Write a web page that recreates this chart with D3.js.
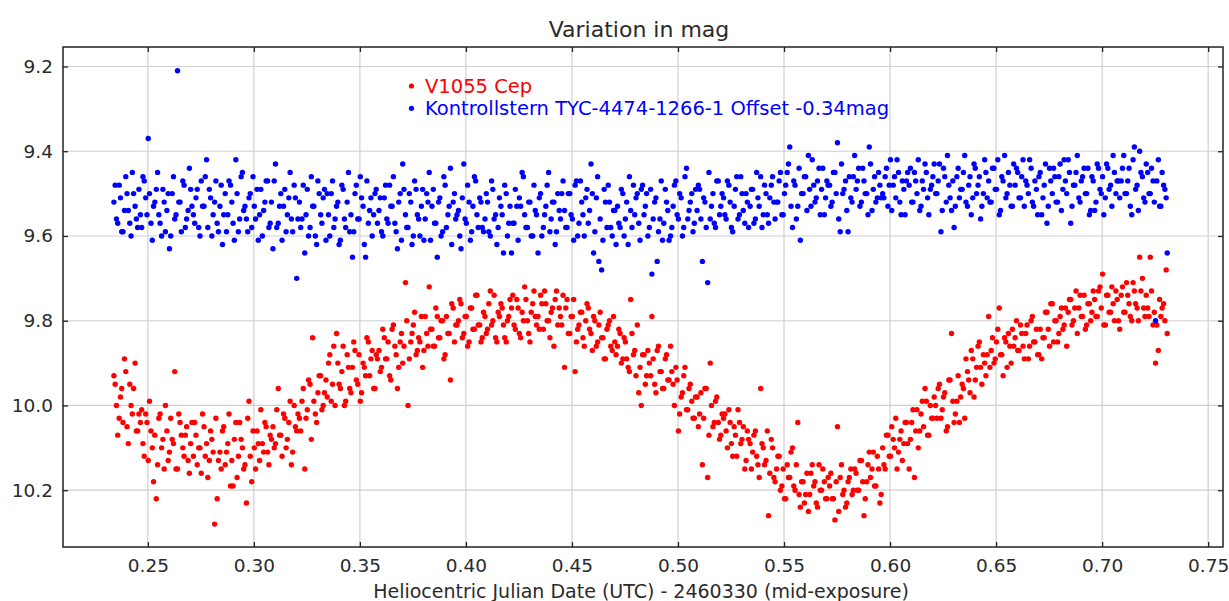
<!DOCTYPE html>
<html>
<head>
<meta charset="utf-8">
<script src="https://cdn.jsdelivr.net/npm/d3@7/dist/d3.min.js"></script>
<style>
	body { margin: 0; background: #fff; }
	text { font-family: 'DejaVu Sans', sans-serif; }
</style>
</head>
<body>
<script>
// mid-exposure times (HJD - 2460330), one frame -> one value per star
// first block: even frames, second block: odd frames
var hjd = [
	0.2340,0.2352,0.2365,0.2377,0.2390,0.2402,0.2415,0.2427,0.2440,0.2452,
	0.2465,0.2477,0.2490,0.2502,0.2515,0.2527,0.2540,0.2552,0.2565,0.2577,
	0.2590,0.2602,0.2615,0.2627,0.2640,0.2652,0.2665,0.2677,0.2690,0.2702,
	0.2715,0.2727,0.2740,0.2752,0.2765,0.2777,0.2790,0.2802,0.2815,0.2827,
	0.2840,0.2852,0.2865,0.2877,0.2890,0.2902,0.2915,0.2927,0.2940,0.2952,
	0.2965,0.2977,0.2990,0.3002,0.3015,0.3027,0.3040,0.3052,0.3065,0.3077,
	0.3090,0.3102,0.3115,0.3127,0.3140,0.3152,0.3165,0.3177,0.3190,0.3202,
	0.3215,0.3227,0.3240,0.3252,0.3265,0.3277,0.3290,0.3302,0.3315,0.3327,
	0.3340,0.3352,0.3365,0.3377,0.3390,0.3402,0.3415,0.3427,0.3440,0.3452,
	0.3465,0.3477,0.3490,0.3502,0.3515,0.3527,0.3540,0.3552,0.3565,0.3577,
	0.3590,0.3602,0.3615,0.3627,0.3640,0.3652,0.3665,0.3677,0.3690,0.3702,
	0.3715,0.3727,0.3740,0.3752,0.3765,0.3777,0.3790,0.3802,0.3815,0.3827,
	0.3840,0.3852,0.3865,0.3877,0.3890,0.3902,0.3915,0.3927,0.3940,0.3952,
	0.3965,0.3977,0.3990,0.4002,0.4015,0.4027,0.4040,0.4052,0.4065,0.4077,
	0.4090,0.4102,0.4115,0.4127,0.4140,0.4152,0.4165,0.4177,0.4190,0.4202,
	0.4215,0.4227,0.4240,0.4252,0.4265,0.4277,0.4290,0.4302,0.4315,0.4327,
	0.4340,0.4352,0.4365,0.4377,0.4390,0.4402,0.4415,0.4427,0.4440,0.4452,
	0.4465,0.4477,0.4490,0.4502,0.4515,0.4527,0.4540,0.4552,0.4565,0.4577,
	0.4590,0.4602,0.4615,0.4627,0.4640,0.4652,0.4665,0.4677,0.4690,0.4702,
	0.4715,0.4727,0.4740,0.4752,0.4765,0.4777,0.4790,0.4802,0.4815,0.4827,
	0.4840,0.4852,0.4865,0.4877,0.4890,0.4902,0.4915,0.4927,0.4940,0.4952,
	0.4965,0.4977,0.4990,0.5002,0.5015,0.5027,0.5040,0.5052,0.5065,0.5077,
	0.5090,0.5102,0.5115,0.5127,0.5140,0.5152,0.5165,0.5177,0.5190,0.5202,
	0.5215,0.5227,0.5240,0.5252,0.5265,0.5277,0.5290,0.5302,0.5315,0.5327,
	0.5340,0.5352,0.5365,0.5377,0.5390,0.5402,0.5415,0.5427,0.5440,0.5452,
	0.5465,0.5477,0.5490,0.5502,0.5515,0.5527,0.5540,0.5552,0.5565,0.5577,
	0.5590,0.5602,0.5615,0.5627,0.5640,0.5652,0.5665,0.5677,0.5690,0.5702,
	0.5715,0.5727,0.5740,0.5752,0.5765,0.5777,0.5790,0.5802,0.5815,0.5827,
	0.5840,0.5852,0.5865,0.5877,0.5890,0.5902,0.5915,0.5927,0.5940,0.5952,
	0.5965,0.5977,0.5990,0.6002,0.6015,0.6027,0.6040,0.6052,0.6065,0.6077,
	0.6090,0.6102,0.6115,0.6127,0.6140,0.6152,0.6165,0.6177,0.6190,0.6202,
	0.6215,0.6227,0.6240,0.6252,0.6265,0.6277,0.6290,0.6302,0.6315,0.6327,
	0.6340,0.6352,0.6365,0.6377,0.6390,0.6402,0.6415,0.6427,0.6440,0.6452,
	0.6465,0.6477,0.6490,0.6502,0.6515,0.6527,0.6540,0.6552,0.6565,0.6577,
	0.6590,0.6602,0.6615,0.6627,0.6640,0.6652,0.6665,0.6677,0.6690,0.6702,
	0.6715,0.6727,0.6740,0.6752,0.6765,0.6777,0.6790,0.6802,0.6815,0.6827,
	0.6840,0.6852,0.6865,0.6877,0.6890,0.6902,0.6915,0.6927,0.6940,0.6952,
	0.6965,0.6977,0.6990,0.7002,0.7015,0.7027,0.7040,0.7052,0.7065,0.7077,
	0.7090,0.7102,0.7115,0.7127,0.7140,0.7152,0.7165,0.7177,0.7190,0.7202,
	0.7215,0.7227,0.7240,0.7252,0.7265,0.7277,0.7290,0.7302,0.7307,
	0.2346,0.2358,0.2371,0.2383,0.2396,0.2408,0.2421,0.2433,0.2446,0.2458,
	0.2471,0.2483,0.2496,0.2508,0.2521,0.2533,0.2546,0.2558,0.2571,0.2583,
	0.2596,0.2608,0.2621,0.2633,0.2646,0.2658,0.2671,0.2683,0.2696,0.2708,
	0.2721,0.2733,0.2746,0.2758,0.2771,0.2783,0.2796,0.2808,0.2821,0.2833,
	0.2846,0.2858,0.2871,0.2883,0.2896,0.2908,0.2921,0.2933,0.2946,0.2958,
	0.2971,0.2983,0.2996,0.3008,0.3021,0.3033,0.3046,0.3058,0.3071,0.3083,
	0.3096,0.3108,0.3121,0.3133,0.3146,0.3158,0.3171,0.3183,0.3196,0.3208,
	0.3221,0.3233,0.3246,0.3258,0.3271,0.3283,0.3296,0.3308,0.3321,0.3333,
	0.3346,0.3358,0.3371,0.3383,0.3396,0.3408,0.3421,0.3433,0.3446,0.3458,
	0.3471,0.3483,0.3496,0.3508,0.3521,0.3533,0.3546,0.3558,0.3571,0.3583,
	0.3596,0.3608,0.3621,0.3633,0.3646,0.3658,0.3671,0.3683,0.3696,0.3708,
	0.3721,0.3733,0.3746,0.3758,0.3771,0.3783,0.3796,0.3808,0.3821,0.3833,
	0.3846,0.3858,0.3871,0.3883,0.3896,0.3908,0.3921,0.3933,0.3946,0.3958,
	0.3971,0.3983,0.3996,0.4008,0.4021,0.4033,0.4046,0.4058,0.4071,0.4083,
	0.4096,0.4108,0.4121,0.4133,0.4146,0.4158,0.4171,0.4183,0.4196,0.4208,
	0.4221,0.4233,0.4246,0.4258,0.4271,0.4283,0.4296,0.4308,0.4321,0.4333,
	0.4346,0.4358,0.4371,0.4383,0.4396,0.4408,0.4421,0.4433,0.4446,0.4458,
	0.4471,0.4483,0.4496,0.4508,0.4521,0.4533,0.4546,0.4558,0.4571,0.4583,
	0.4596,0.4608,0.4621,0.4633,0.4646,0.4658,0.4671,0.4683,0.4696,0.4708,
	0.4721,0.4733,0.4746,0.4758,0.4771,0.4783,0.4796,0.4808,0.4821,0.4833,
	0.4846,0.4858,0.4871,0.4883,0.4896,0.4908,0.4921,0.4933,0.4946,0.4958,
	0.4971,0.4983,0.4996,0.5008,0.5021,0.5033,0.5046,0.5058,0.5071,0.5083,
	0.5096,0.5108,0.5121,0.5133,0.5146,0.5158,0.5171,0.5183,0.5196,0.5208,
	0.5221,0.5233,0.5246,0.5258,0.5271,0.5283,0.5296,0.5308,0.5321,0.5333,
	0.5346,0.5358,0.5371,0.5383,0.5396,0.5408,0.5421,0.5433,0.5446,0.5458,
	0.5471,0.5483,0.5496,0.5508,0.5521,0.5533,0.5546,0.5558,0.5571,0.5583,
	0.5596,0.5608,0.5621,0.5633,0.5646,0.5658,0.5671,0.5683,0.5696,0.5708,
	0.5721,0.5733,0.5746,0.5758,0.5771,0.5783,0.5796,0.5808,0.5821,0.5833,
	0.5846,0.5858,0.5871,0.5883,0.5896,0.5908,0.5921,0.5933,0.5946,0.5958,
	0.5971,0.5983,0.5996,0.6008,0.6021,0.6033,0.6046,0.6058,0.6071,0.6083,
	0.6096,0.6108,0.6121,0.6133,0.6146,0.6158,0.6171,0.6183,0.6196,0.6208,
	0.6221,0.6233,0.6246,0.6258,0.6271,0.6283,0.6296,0.6308,0.6321,0.6333,
	0.6346,0.6358,0.6371,0.6383,0.6396,0.6408,0.6421,0.6433,0.6446,0.6458,
	0.6471,0.6483,0.6496,0.6508,0.6521,0.6533,0.6546,0.6558,0.6571,0.6583,
	0.6596,0.6608,0.6621,0.6633,0.6646,0.6658,0.6671,0.6683,0.6696,0.6708,
	0.6721,0.6733,0.6746,0.6758,0.6771,0.6783,0.6796,0.6808,0.6821,0.6833,
	0.6846,0.6858,0.6871,0.6883,0.6896,0.6908,0.6921,0.6933,0.6946,0.6958,
	0.6971,0.6983,0.6996,0.7008,0.7021,0.7033,0.7046,0.7058,0.7071,0.7083,
	0.7096,0.7108,0.7121,0.7133,0.7146,0.7158,0.7171,0.7183,0.7196,0.7208,
	0.7221,0.7233,0.7246,0.7258,0.7271,0.7283,0.7296
];

// V1055 Cep (mag)
var v1055 = [
	9.93,10.00,10.03,9.96,9.89,10.05,9.95,10.02,9.90,10.06,
	10.04,10.09,10.02,10.13,10.06,10.18,10.22,10.03,10.10,10.15,
	10.06,10.11,10.08,9.92,10.15,10.04,10.10,10.07,10.13,10.09,
	10.12,10.07,10.10,10.16,10.05,10.09,10.13,10.08,10.28,10.22,
	10.11,10.06,10.14,10.09,10.19,10.19,10.04,10.12,10.08,10.15,
	10.23,9.99,10.18,10.10,10.06,10.13,10.09,10.04,10.11,10.07,
	10.05,10.09,9.96,10.07,10.02,10.10,10.04,10.14,10.00,10.06,
	10.03,9.99,10.15,10.01,9.95,9.84,10.02,9.97,9.93,10.00,
	9.94,9.90,9.99,9.86,9.83,9.95,9.92,10.00,9.88,9.96,
	9.91,9.87,9.95,9.99,9.90,9.93,9.85,9.89,9.96,9.88,
	9.87,9.91,9.84,9.89,9.93,9.82,9.86,9.96,9.85,9.90,
	9.71,10.00,9.85,9.81,9.88,9.84,9.79,9.87,9.83,9.72,
	9.82,9.86,9.79,9.84,9.80,9.88,9.83,9.94,9.77,9.81,
	9.80,9.76,9.83,9.79,9.85,9.77,9.82,9.74,9.81,9.84,
	9.79,9.82,9.73,9.80,9.84,9.78,9.76,9.81,9.85,9.79,
	9.77,9.81,9.75,9.83,9.78,9.72,9.80,9.85,9.76,9.79,
	9.79,9.74,9.82,9.76,9.80,9.78,9.86,9.73,9.77,9.81,
	9.91,9.75,9.83,9.79,9.92,9.82,9.78,9.84,9.80,9.77,
	9.83,9.79,9.86,9.81,9.84,9.89,9.82,9.80,9.87,9.85,
	9.86,9.83,9.89,9.85,9.91,9.75,9.88,9.93,9.97,10.00,
	9.88,9.93,9.90,9.79,9.95,9.87,9.92,9.96,9.89,9.94,
	9.86,9.95,9.91,10.06,9.98,9.93,10.01,9.96,9.99,10.03,
	9.98,10.02,10.14,9.96,10.17,9.90,10.05,9.99,10.04,10.07,
	10.03,10.06,10.01,10.09,10.05,10.12,10.04,10.08,10.15,10.06,
	10.09,10.11,10.06,10.14,9.96,10.10,10.13,10.26,10.08,10.17,
	10.15,10.12,10.19,10.22,10.14,10.17,10.10,10.20,10.04,10.24,
	10.18,10.21,10.25,10.16,10.19,10.23,10.14,10.20,10.18,10.22,
	10.19,10.22,10.27,10.05,10.17,10.21,10.24,10.18,10.15,10.20,
	10.16,10.20,10.13,10.26,10.18,10.11,10.15,10.19,10.12,10.23,
	10.10,10.15,10.07,10.12,10.08,10.03,10.11,10.06,10.09,10.04,
	10.15,10.04,10.17,10.01,10.06,9.99,9.96,10.07,10.00,10.03,
	10.00,9.96,10.03,9.98,10.06,9.94,9.83,10.04,9.99,10.04,
	9.95,10.03,9.92,9.97,9.89,9.94,9.86,9.91,9.88,9.93,
	9.79,9.87,9.90,9.85,9.77,9.88,9.84,9.91,9.86,9.82,
	9.84,9.87,9.81,9.86,9.83,9.89,9.80,9.85,9.82,9.88,
	9.89,9.84,9.78,9.86,9.76,9.80,9.85,9.79,9.82,9.77,
	9.78,9.75,9.80,9.73,9.77,9.79,9.74,9.81,9.76,9.78,
	9.75,9.79,9.72,9.69,9.81,9.74,9.78,9.76,9.73,9.80,
	9.74,9.78,9.71,9.76,9.80,9.73,9.77,9.65,9.70,9.79,
	9.77,9.65,9.81,9.90,9.87,9.79,9.76,9.68,9.83,
	9.95,10.07,9.98,10.04,9.92,10.09,10.00,9.96,10.06,10.02,
	10.01,10.12,10.04,9.99,10.10,10.07,10.14,10.02,10.08,10.00,
	10.13,10.03,10.09,10.15,10.02,10.07,10.12,10.05,10.16,10.04,
	10.04,10.14,10.10,10.02,10.12,10.17,10.06,10.11,10.03,10.13,
	10.15,10.05,10.11,10.02,10.13,10.08,10.17,10.04,10.10,10.14,
	10.03,10.12,10.06,10.15,10.09,10.01,10.11,10.05,10.14,10.08,
	10.10,10.01,10.07,10.12,10.03,10.08,9.99,10.11,10.05,10.02,
	10.06,9.96,10.03,9.94,10.08,9.99,10.04,9.93,10.01,9.97,
	9.98,9.88,9.95,10.00,9.90,9.96,9.86,9.99,9.91,9.97,
	9.85,9.94,9.88,9.97,9.91,9.84,9.93,9.87,9.96,9.89,
	9.92,9.82,9.89,9.85,9.94,9.81,9.88,9.91,9.83,9.86,
	9.80,9.89,9.83,9.78,9.87,9.85,9.91,9.79,9.86,9.82,
	9.86,9.77,9.84,9.80,9.89,9.79,9.83,9.76,9.85,9.81,
	9.75,9.84,9.79,9.86,9.77,9.82,9.74,9.81,9.85,9.78,
	9.83,9.76,9.81,9.74,9.85,9.79,9.77,9.84,9.80,9.75,
	9.74,9.82,9.77,9.84,9.80,9.75,9.83,9.78,9.73,9.81,
	9.82,9.76,9.73,9.80,9.84,9.77,9.75,9.81,9.79,9.74,
	9.77,9.83,9.79,9.75,9.85,9.81,9.78,9.86,9.76,9.82,
	9.87,9.80,9.85,9.78,9.84,9.89,9.81,9.86,9.79,9.88,
	9.82,9.90,9.84,9.89,9.92,9.83,9.87,9.81,9.91,9.88,
	9.95,9.87,9.93,9.89,9.97,9.86,9.92,9.96,9.88,9.94,
	9.92,10.00,9.94,10.02,9.97,9.91,10.01,9.95,10.03,9.98,
	10.05,9.97,10.03,9.96,10.07,10.00,10.04,9.98,10.08,10.02,
	10.02,10.10,10.04,10.12,10.07,10.01,10.09,10.05,10.13,10.08,
	10.15,10.07,10.12,10.17,10.09,10.14,10.06,10.16,10.10,10.18,
	10.12,10.20,10.15,10.22,10.17,10.11,10.19,10.14,10.21,10.18,
	10.23,10.16,10.21,10.14,10.18,10.24,10.20,10.15,10.22,10.17,
	10.16,10.22,10.18,10.25,10.14,10.20,10.23,10.17,10.21,10.15,
	10.20,10.13,10.18,10.22,10.14,10.17,10.11,10.19,10.15,10.21,
	10.14,10.07,10.12,10.05,10.10,10.15,10.08,10.13,10.04,10.09,
	10.08,10.01,10.06,10.10,10.02,10.05,9.99,10.07,10.03,9.98,
	10.03,9.95,10.01,9.97,10.05,9.94,9.99,10.02,9.93,9.98,
	9.96,9.89,9.94,9.87,9.98,9.91,9.85,9.95,9.90,9.88,
	9.91,9.84,9.89,9.82,9.88,9.93,9.85,9.83,9.90,9.86,
	9.80,9.87,9.83,9.89,9.81,9.86,9.79,9.85,9.88,9.82,
	9.84,9.78,9.82,9.76,9.85,9.80,9.83,9.77,9.81,9.86,
	9.75,9.81,9.77,9.83,9.74,9.79,9.82,9.76,9.80,9.73,
	9.79,9.73,9.77,9.81,9.74,9.78,9.72,9.80,9.75,9.82,
	9.72,9.78,9.74,9.79,9.71,9.76,9.80,9.73,9.77,9.74,
	9.79,9.73,9.78,9.81,9.75,9.77,9.80
];

// Kontrollstern TYC-4474-1266-1, already shifted by -0.34 mag
var checkStar = [
	9.52,9.56,9.48,9.59,9.54,9.50,9.57,9.45,9.53,9.58,
	9.55,9.46,9.51,9.37,9.57,9.53,9.49,9.55,9.60,9.52,
	9.54,9.63,9.50,9.56,9.21,9.52,9.47,9.58,9.54,9.49,
	9.55,9.51,9.58,9.47,9.53,9.42,9.49,9.60,9.52,9.57,
	9.53,9.62,9.50,9.55,9.48,9.57,9.42,9.59,9.46,9.54,
	9.56,9.51,9.58,9.53,9.49,9.55,9.60,9.52,9.47,9.57,
	9.63,9.43,9.57,9.50,9.53,9.59,9.51,9.56,9.48,9.70,
	9.52,9.56,9.64,9.49,9.58,9.53,9.60,9.47,9.55,9.51,
	9.61,9.55,9.50,9.58,9.53,9.62,9.48,9.56,9.52,9.59,
	9.65,9.50,9.56,9.46,9.53,9.65,9.57,9.51,9.55,9.49,
	9.54,9.59,9.51,9.56,9.48,9.53,9.57,9.63,9.50,9.43,
	9.55,9.58,9.52,9.60,9.49,9.56,9.53,9.61,9.50,9.45,
	9.53,9.57,9.65,9.51,9.59,9.48,9.55,9.44,9.52,9.56,
	9.54,9.63,9.43,9.57,9.52,9.59,9.46,9.55,9.51,9.58,
	9.56,9.52,9.60,9.49,9.55,9.58,9.53,9.64,9.50,9.57,
	9.64,9.57,9.53,9.51,9.45,9.55,9.58,9.52,9.60,9.54,
	9.64,9.50,9.58,9.53,9.45,9.56,9.52,9.59,9.54,9.50,
	9.54,9.58,9.50,9.56,9.48,9.60,9.47,9.55,9.51,9.57,
	9.43,9.64,9.51,9.66,9.68,9.49,9.58,9.52,9.60,9.54,
	9.53,9.58,9.50,9.56,9.62,9.54,9.48,9.51,9.57,9.49,
	9.55,9.50,9.58,9.69,9.52,9.66,9.56,9.61,9.49,9.54,
	9.60,9.53,9.47,9.56,9.51,9.58,9.44,9.54,9.50,9.57,
	9.54,9.49,9.66,9.52,9.71,9.56,9.50,9.58,9.47,9.53,
	9.51,9.56,9.48,9.58,9.53,9.46,9.55,9.50,9.57,9.52,
	9.53,9.49,9.56,9.51,9.46,9.55,9.50,9.57,9.48,9.52,
	9.52,9.47,9.55,9.50,9.45,9.39,9.58,9.48,9.53,9.61,
	9.50,9.46,9.41,9.53,9.48,9.51,9.44,9.49,9.55,9.47,
	9.48,9.52,9.45,9.38,9.59,9.50,9.47,9.59,9.51,9.46,
	9.49,9.44,9.52,9.47,9.50,9.39,9.54,9.46,9.51,9.48,
	9.50,9.46,9.53,9.42,9.48,9.51,9.45,9.55,9.49,9.47,
	9.48,9.52,9.45,9.50,9.54,9.47,9.43,9.51,9.49,9.46,
	9.50,9.47,9.59,9.44,9.52,9.48,9.54,9.58,9.46,9.51,
	9.49,9.41,9.53,9.46,9.51,9.44,9.48,9.56,9.50,9.45,
	9.47,9.52,9.44,9.49,9.55,9.46,9.41,9.50,9.48,9.53,
	9.48,9.45,9.51,9.42,9.47,9.50,9.44,9.53,9.49,9.46,
	9.55,9.48,9.57,9.44,9.50,9.46,9.52,9.43,9.49,9.47,
	9.42,9.57,9.48,9.45,9.51,9.47,9.44,9.50,9.55,9.46,
	9.54,9.43,9.49,9.46,9.51,9.44,9.48,9.41,9.50,9.47,
	9.47,9.41,9.50,9.44,9.55,9.39,9.48,9.40,9.46,9.52,
	9.45,9.50,9.47,9.80,9.42,9.53,9.48,9.51,9.64,
	9.48,9.57,9.51,9.59,9.46,9.54,9.60,9.50,9.56,9.49,
	9.58,9.47,9.55,9.50,9.61,9.52,9.45,9.57,9.49,9.59,
	9.50,9.60,9.46,9.55,9.52,9.59,9.48,9.56,9.44,9.53,
	9.57,9.49,9.60,9.53,9.46,9.58,9.51,9.55,9.47,9.59,
	9.48,9.55,9.59,9.47,9.52,9.61,9.50,9.56,9.45,9.53,
	9.59,9.50,9.46,9.56,9.61,9.49,9.54,9.47,9.58,9.52,
	9.47,9.58,9.53,9.61,9.49,9.55,9.45,9.59,9.51,9.56,
	9.58,9.48,9.55,9.60,9.46,9.53,9.62,9.50,9.57,9.49,
	9.50,9.60,9.47,9.56,9.52,9.61,9.49,9.58,9.45,9.55,
	9.59,9.48,9.56,9.51,9.62,9.47,9.54,9.60,9.50,9.57,
	9.51,9.60,9.48,9.57,9.53,9.46,9.59,9.52,9.61,9.49,
	9.58,9.50,9.62,9.47,9.55,9.60,9.49,9.56,9.52,9.61,
	9.49,9.57,9.52,9.60,9.46,9.58,9.53,9.62,9.50,9.55,
	9.60,9.51,9.56,9.48,9.61,9.53,9.47,9.58,9.52,9.59,
	9.50,9.59,9.47,9.56,9.62,9.51,9.55,9.48,9.60,9.53,
	9.57,9.49,9.61,9.53,9.46,9.58,9.52,9.60,9.48,9.55,
	9.51,9.60,9.55,9.48,9.59,9.52,9.62,9.50,9.56,9.47,
	9.58,9.50,9.55,9.61,9.47,9.57,9.52,9.60,9.49,9.54,
	9.50,9.59,9.46,9.56,9.61,9.52,9.48,9.58,9.54,9.62,
	9.57,9.49,9.60,9.52,9.46,9.58,9.55,9.50,9.61,9.48,
	9.53,9.60,9.49,9.56,9.51,9.59,9.47,9.57,9.52,9.61,
	9.58,9.48,9.55,9.50,9.60,9.46,9.56,9.52,9.59,9.49,
	9.48,9.56,9.51,9.58,9.45,9.53,9.57,9.47,9.55,9.50,
	9.55,9.47,9.52,9.59,9.49,9.56,9.46,9.54,9.50,9.58,
	9.49,9.57,9.45,9.53,9.58,9.48,9.55,9.51,9.46,9.56,
	9.52,9.45,9.55,9.48,9.43,9.53,9.47,9.56,9.44,9.50,
	9.46,9.54,9.49,9.42,9.52,9.47,9.55,9.44,9.51,9.48,
	9.53,9.45,9.50,9.56,9.43,9.49,9.54,9.46,9.52,9.41,
	9.47,9.53,9.44,9.50,9.55,9.43,9.49,9.52,9.45,9.51,
	9.51,9.44,9.48,9.54,9.46,9.42,9.52,9.47,9.55,9.45,
	9.44,9.52,9.47,9.42,9.53,9.49,9.45,9.55,9.48,9.43,
	9.50,9.43,9.54,9.46,9.41,9.51,9.47,9.53,9.44,9.49,
	9.45,9.52,9.48,9.55,9.43,9.50,9.46,9.53,9.42,9.51,
	9.52,9.44,9.49,9.42,9.54,9.47,9.51,9.45,9.53,9.43,
	9.44,9.51,9.46,9.53,9.48,9.42,9.52,9.47,9.55,9.45,
	9.51,9.43,9.53,9.47,9.44,9.52,9.46,9.54,9.42,9.50,
	9.45,9.53,9.48,9.41,9.52,9.46,9.50,9.44,9.54,9.47,
	9.52,9.44,9.50,9.55,9.43,9.49,9.53,9.45,9.47,9.51,
	9.44,9.50,9.47,9.53,9.42,9.49,9.54,9.45,9.51,9.43,
	9.50,9.44,9.52,9.47,9.53,9.45,9.49
];

var xTicks = [0.25, 0.30, 0.35, 0.40, 0.45, 0.50, 0.55, 0.60, 0.65, 0.70, 0.75];
var yTicks = [9.2, 9.4, 9.6, 9.8, 10.0, 10.2];
var seriesNames = ['V1055 Cep', 'Kontrollstern TYC-4474-1266-1 Offset -0.34mag'];
var seriesColors = ['#ff0000', '#0000ff'];

var svg = d3.select('body').append('svg')
	.attr('width', 1229)
	.attr('height', 601);

var x = d3.scaleLinear().domain([0.21, 0.757]).range([63, 1223]);
var y = d3.scaleLinear().domain([9.154, 10.334]).range([47, 547]);

// grid
svg.append('g').selectAll('line').data(xTicks).enter().append('line')
	.attr('x1', function(d){ return x(d); })
	.attr('x2', function(d){ return x(d); })
	.attr('y1', 47)
	.attr('y2', 547)
	.attr('stroke', '#cfcfcf')
	.attr('stroke-width', 1.2);

svg.append('g').selectAll('line').data(yTicks).enter().append('line')
	.attr('x1', 63)
	.attr('x2', 1223)
	.attr('y1', function(d){ return y(d); })
	.attr('y2', function(d){ return y(d); })
	.attr('stroke', '#cfcfcf')
	.attr('stroke-width', 1.2);

// points: target first, check star on top
var pts = svg.append('g');
pts.selectAll('circle.var').data(hjd).enter().append('circle')
	.attr('class', 'var')
	.attr('cx', function(d){ return x(d); })
	.attr('cy', function(d, i){ return y(v1055[i]); })
	.attr('r', 2.7)
	.attr('fill', seriesColors[0]);

pts.selectAll('circle.chk').data(hjd).enter().append('circle')
	.attr('class', 'chk')
	.attr('cx', function(d){ return x(d); })
	.attr('cy', function(d, i){ return y(checkStar[i]); })
	.attr('r', 2.7)
	.attr('fill', seriesColors[1]);

// axes, ticks point inwards
svg.append('g')
	.attr('transform', 'translate(0,547)')
	.call(d3.axisBottom(x).tickValues(xTicks).tickFormat(d3.format('.2f')).tickSize(-5).tickPadding(11.5));

svg.append('g')
	.attr('transform', 'translate(63,0)')
	.call(d3.axisLeft(y).tickValues(yTicks).tickFormat(d3.format('.1f')).tickSize(-5).tickPadding(10));

svg.append('g')
	.attr('transform', 'translate(0,47)')
	.call(d3.axisTop(x).tickValues(xTicks).tickFormat('').tickSize(-5));

svg.append('g')
	.attr('transform', 'translate(1223,0)')
	.call(d3.axisRight(y).tickValues(yTicks).tickFormat('').tickSize(-5));

svg.selectAll('.domain').remove();
svg.selectAll('.tick line').attr('stroke', '#222').attr('stroke-width', 1.3);
svg.selectAll('.tick text')
	.attr('fill', '#2a2a2a')
	.style('font-size', '18.5px')
	.style('font-family', "'DejaVu Sans', sans-serif");

svg.append('rect')
	.attr('x', 63)
	.attr('y', 47)
	.attr('width', 1160)
	.attr('height', 500)
	.attr('fill', 'none')
	.attr('stroke', '#222')
	.attr('stroke-width', 1.5);

// titles
svg.append('text')
	.attr('x', 639)
	.attr('y', 37)
	.attr('text-anchor', 'middle')
	.attr('fill', '#2a2a2a')
	.style('font-size', '22px')
	.text('Variation in mag');

svg.append('text')
	.attr('x', 641)
	.attr('y', 598)
	.attr('text-anchor', 'middle')
	.attr('fill', '#2a2a2a')
	.style('font-size', '19px')
	.text('Heliocentric Julian Date (UTC) - 2460330 (mid-exposure)');

// legend
var legend = svg.append('g');
seriesNames.forEach(function(name, i){
	legend.append('circle')
		.attr('cx', 411.5)
		.attr('cy', 86 + i * 22.3)
		.attr('r', 2.6)
		.attr('fill', seriesColors[i]);
	legend.append('text')
		.attr('x', 425)
		.attr('y', 92.7 + i * 22.3)
		.attr('fill', seriesColors[i])
		.style('font-size', '19.5px')
		.text(name);
});
</script>
</body>
</html>
